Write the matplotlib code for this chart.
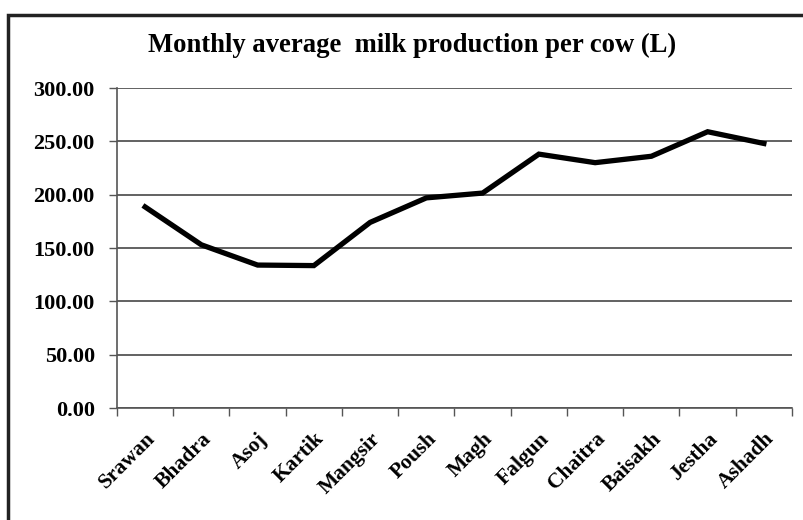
import numpy as np
from matplotlib import pyplot as plt
from matplotlib.patches import Rectangle

# nepali months and average milk yield per cow (L)
months = ['Srawan', 'Bhadra', 'Asoj', 'Kartik', 'Mangsir', 'Poush',
          'Magh', 'Falgun', 'Chaitra', 'Baisakh', 'Jestha', 'Ashadh']
milk = [188.5, 153.0, 134.0, 133.5, 174.0, 197.0,
        201.5, 238.0, 230.0, 236.0, 259.0, 248.0]
y_ticks = [0, 50, 100, 150, 200, 250, 300]

plt.rcParams['font.family'] = ['Liberation Serif', 'DejaVu Serif']
plt.rcParams['font.weight'] = 'bold'

fig = plt.figure(figsize=(8.04, 5.2), dpi=100)
ax = fig.add_axes([117 / 804, 1 - 408 / 520, (792 - 117) / 804, 320 / 520])

x = np.arange(len(months))
ax.plot(x, milk, color='black', linewidth=3.8, solid_joinstyle='miter')

ax.set_xlim(-0.5, len(months) - 0.5)
ax.set_ylim(0, 300)
ax.set_yticks(y_ticks)
ax.set_yticklabels(['%.2f' % v for v in y_ticks], fontsize=16, fontweight='bold')
ax.yaxis.grid(True, color='#555555', linewidth=1.3)
ax.set_axisbelow(True)

# ticks at category boundaries, labels at centres
ax.set_xticks(np.arange(-0.5, len(months), 1.0))
ax.set_xticklabels([])
ax.set_xticks(x, minor=True)
ax.set_xticklabels(months, minor=True, rotation=45, ha='right', va='top',
                   rotation_mode='anchor', fontsize=15.5, fontweight='bold')
ax.tick_params(axis='x', which='minor', length=0, pad=15)
ax.tick_params(axis='both', which='major', length=6, width=1, color='#555555')
ax.tick_params(axis='y', pad=10)

for side in ['top', 'right']:
    ax.spines[side].set_visible(False)
for side in ['left', 'bottom']:
    ax.spines[side].set_color('#555555')
    ax.spines[side].set_linewidth(1.2)

fig.text(412 / 804, 1 - 45 / 520, 'Monthly average  milk production per cow (L)',
         ha='center', va='center', fontsize=19.2, fontweight='bold')

# outer frame of the chart
fig.patches.append(Rectangle((8 / 804, -0.05), 1.0, 1 - 15 / 520 + 0.05,
                             transform=fig.transFigure, fill=False,
                             edgecolor='#222222', linewidth=2.5))

fig.savefig('out.png', dpi=100)
